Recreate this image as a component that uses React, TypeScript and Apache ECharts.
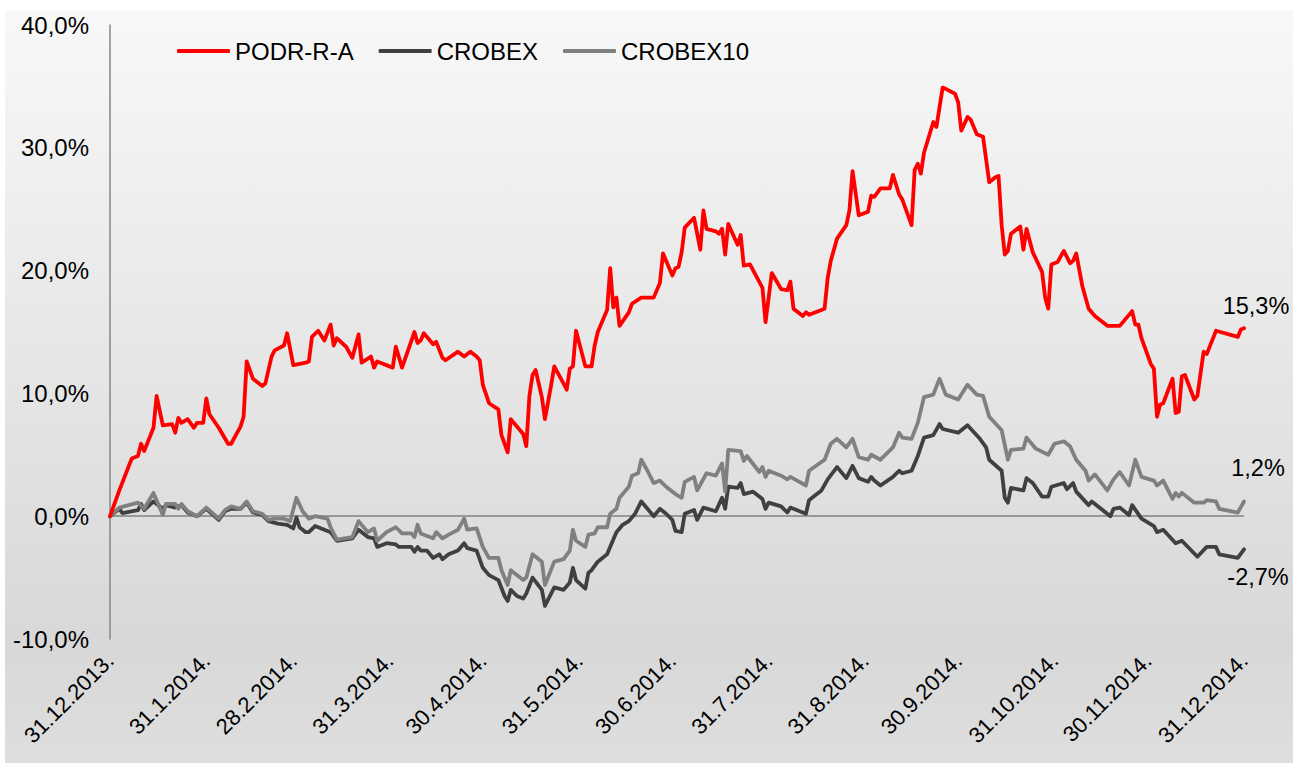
import React, { useEffect, useRef } from "react";
import * as echarts from "echarts";

// Day offsets from 31.12.2013 (0) to 31.12.2014 (365)
const totalDays = 365;
const monthEndDays = [0, 31, 59, 90, 120, 151, 181, 212, 243, 273, 304, 334, 365];
const monthEndLabels = [
  "31.12.2013.", "31.1.2014.", "28.2.2014.", "31.3.2014.", "30.4.2014.", "31.5.2014.",
  "30.6.2014.", "31.7.2014.", "31.8.2014.", "30.9.2014.", "31.10.2014.", "30.11.2014.", "31.12.2014.",
];
const yTicks = { min: -10, max: 40, interval: 10 };
const seriesNames = ["PODR-R-A", "CROBEX", "CROBEX10"];

// [day offset, cumulative return %]
const podr: [number, number][] = [
  [0, 0], [3, 2.1], [7, 4.7], [9, 4.9], [10, 5.9], [11, 5.3], [14, 7.2], [15, 9.8], [17, 7.4], [20, 7.5],
  [21, 6.8], [22, 8.0], [23, 7.6], [25, 7.9], [27, 7.2], [28, 7.6], [30, 7.6], [31, 9.6], [32, 8.3], [35, 7.2],
  [38, 5.9], [39, 5.9], [42, 7.3], [43, 8.1], [44, 12.6], [46, 11.2], [49, 10.6], [50, 10.8], [52, 13.0], [53, 13.5],
  [56, 13.9], [57, 14.9], [59, 12.3], [63, 12.5], [64, 12.6], [65, 14.6], [67, 15.1], [69, 14.3], [71, 15.6], [72, 13.9],
  [73, 14.5], [76, 13.8], [78, 12.9], [80, 14.8], [81, 12.5], [84, 13.0], [85, 12.1], [86, 12.6], [91, 12.1], [92, 13.8],
  [94, 12.1], [98, 15.0], [99, 14.1], [100, 14.3], [101, 14.9], [104, 14.0], [105, 14.2], [107, 12.9], [108, 12.7], [112, 13.4],
  [114, 13.0], [116, 13.4], [118, 13.0], [119, 12.7], [120, 10.7], [122, 9.2], [125, 8.7], [126, 6.6], [128, 5.2], [129, 7.9],
  [133, 6.7], [134, 5.7], [135, 9.8], [136, 11.5], [137, 11.9], [139, 9.7], [140, 7.9], [142, 10.7], [143, 12.2], [146, 10.8],
  [147, 10.3], [148, 12.0], [149, 12.2], [150, 15.1], [153, 12.2], [155, 12.2], [156, 13.9], [157, 15.0], [160, 16.8], [161, 20.2],
  [162, 17.0], [163, 17.8], [164, 15.5], [167, 16.6], [168, 17.3], [171, 17.8], [175, 17.8], [177, 19.0], [178, 21.4], [181, 19.6],
  [182, 20.2], [183, 20.3], [184, 21.5], [185, 23.5], [188, 24.3], [190, 21.7], [191, 24.9], [192, 23.4], [195, 23.2], [196, 23.0],
  [197, 23.4], [198, 21.3], [199, 23.8], [202, 22.1], [203, 22.9], [204, 20.4], [206, 20.5], [210, 18.6], [211, 15.8], [213, 19.8],
  [216, 18.5], [218, 18.4], [219, 19.1], [220, 16.9], [223, 16.3], [224, 16.6], [225, 16.4], [230, 16.9], [231, 19.4], [232, 20.8],
  [234, 22.6], [237, 23.7], [238, 24.9], [239, 28.1], [241, 24.5], [244, 24.8], [245, 26.1], [246, 26.0], [248, 26.7], [251, 26.7],
  [252, 27.8], [254, 26.2], [255, 25.8], [258, 23.7], [259, 28.2], [260, 28.7], [261, 27.9], [262, 29.6], [265, 32.1], [266, 31.7],
  [268, 34.9], [269, 34.8], [272, 34.4], [273, 33.7], [274, 31.4], [276, 32.5], [277, 32.3], [279, 31.1], [281, 30.9], [283, 27.2],
  [285, 27.6], [286, 27.7], [287, 23.7], [288, 21.3], [289, 21.6], [290, 23.0], [293, 23.6], [294, 21.7], [295, 23.4], [297, 21.5],
  [300, 19.9], [301, 17.8], [302, 16.9], [303, 20.5], [305, 20.7], [307, 21.6], [309, 20.6], [310, 20.8], [311, 21.4], [313, 18.7],
  [315, 16.9], [317, 16.3], [321, 15.5], [325, 15.5], [329, 16.7], [330, 15.6], [331, 15.6], [332, 14.5], [335, 12.4], [336, 12.0],
  [337, 8.1], [338, 9.1], [339, 9.2], [342, 11.2], [343, 8.4], [344, 8.5], [345, 11.4], [346, 11.5], [349, 9.5], [350, 9.8],
  [352, 13.4], [353, 13.2], [356, 15.1], [363, 14.6], [364, 15.2], [365, 15.3],
];

const crobex: [number, number][] = [
  [0, 0], [3, 0.6], [4, 0.25], [9, 0.5], [10, 1.0], [11, 0.5], [14, 1.2], [15, 1.0], [17, 0.6], [18, 0.9],
  [21, 0.7], [23, 0.9], [25, 0.3], [28, 0.0], [31, 0.6], [35, -0.3], [37, 0.4], [39, 0.6], [42, 0.6], [44, 1.1],
  [46, 0.3], [49, 0.1], [51, -0.4], [54, -0.6], [57, -0.7], [59, -1.0], [60, -0.1], [61, -0.9], [63, -1.3], [64, -1.3],
  [66, -0.8], [69, -1.1], [71, -1.3], [73, -2.0], [78, -1.8], [80, -1.1], [83, -1.7], [85, -1.8], [86, -2.5], [89, -2.2],
  [92, -2.3], [93, -2.5], [97, -2.5], [98, -2.9], [99, -2.5], [100, -2.8], [102, -2.8], [104, -3.4], [106, -3.1], [107, -3.5],
  [109, -3.1], [112, -2.8], [114, -2.2], [115, -2.6], [118, -2.8], [120, -4.2], [122, -4.8], [125, -5.2], [127, -6.5], [128, -6.9],
  [129, -6.0], [131, -6.5], [133, -6.7], [134, -6.3], [136, -5.0], [139, -6.0], [140, -7.3], [143, -5.8], [146, -6.0], [148, -5.4],
  [149, -4.2], [150, -5.2], [153, -5.9], [154, -4.6], [155, -4.4], [157, -3.7], [160, -3.1], [162, -1.9], [163, -1.3], [165, -0.7],
  [167, -0.4], [169, 0.2], [171, 1.2], [173, 0.6], [175, 0.0], [177, 0.6], [179, 0.2], [181, -0.3], [182, -1.2], [184, -1.3],
  [185, 0.2], [188, 0.5], [189, -0.3], [191, 0.7], [195, 0.4], [197, 1.5], [198, 0.6], [199, 2.4], [202, 2.3], [203, 2.7],
  [204, 1.8], [207, 2.0], [210, 1.4], [211, 0.6], [212, 1.1], [216, 0.8], [218, 0.3], [219, 0.7], [224, 0.2], [225, 1.3],
  [227, 1.7], [229, 2.1], [231, 3.0], [234, 4.0], [237, 3.1], [239, 4.1], [241, 3.1], [244, 2.8], [245, 3.2], [246, 2.9],
  [248, 2.5], [252, 3.2], [254, 3.7], [255, 3.5], [258, 3.7], [260, 4.9], [262, 6.4], [265, 6.6], [267, 7.5], [268, 7.1],
  [273, 6.8], [276, 7.4], [280, 6.3], [282, 5.6], [283, 4.6], [287, 3.7], [288, 1.5], [289, 1.1], [290, 2.3], [294, 2.1],
  [295, 3.1], [297, 2.7], [300, 1.6], [302, 1.6], [303, 2.4], [307, 2.7], [308, 2.2], [310, 2.7], [311, 2.0], [315, 0.9],
  [316, 1.2], [322, 0.0], [323, 0.6], [325, 0.7], [328, 0.1], [329, 0.9], [332, -0.2], [336, -0.8], [337, -1.3], [339, -1.1],
  [343, -2.2], [345, -2.0], [350, -3.3], [353, -2.5], [356, -2.5], [357, -3.1], [363, -3.4], [365, -2.7],
];

const crobex10: [number, number][] = [
  [0, 0], [3, 0.7], [9, 1.1], [11, 0.6], [14, 1.9], [15, 1.3], [17, 0.1], [18, 1.0], [21, 1.0], [22, 0.6],
  [23, 1.0], [25, 0.4], [28, 0.0], [31, 0.7], [35, -0.2], [37, 0.5], [39, 0.8], [42, 0.6], [44, 1.2], [46, 0.4],
  [49, 0.2], [51, -0.3], [53, -0.2], [56, -0.2], [58, -0.4], [60, 1.5], [62, 0.4], [64, -0.2], [66, 0.0], [70, -0.2],
  [71, -0.9], [73, -1.9], [78, -1.7], [80, -0.4], [83, -1.3], [85, -1.0], [86, -2.0], [89, -1.3], [92, -0.9], [94, -1.4],
  [97, -1.4], [98, -1.7], [99, -0.7], [100, -1.4], [104, -1.8], [105, -1.3], [107, -1.8], [109, -1.5], [112, -1.1], [114, -0.2],
  [115, -1.1], [118, -1.0], [120, -2.5], [122, -3.4], [125, -3.4], [126, -4.4], [128, -5.6], [129, -4.4], [133, -5.2], [134, -5.0],
  [136, -3.1], [139, -3.7], [140, -5.6], [143, -3.7], [146, -3.5], [148, -2.8], [149, -1.1], [150, -2.0], [153, -2.5], [154, -1.5],
  [156, -1.4], [157, -0.9], [160, -0.9], [161, 0.2], [163, 0.6], [164, 1.5], [167, 2.4], [168, 3.3], [170, 3.5], [171, 4.6],
  [173, 3.7], [175, 2.7], [177, 2.9], [179, 2.4], [182, 1.8], [184, 1.5], [185, 2.8], [188, 3.2], [189, 2.1], [192, 3.5],
  [195, 3.3], [197, 4.3], [198, 2.0], [199, 5.4], [203, 5.3], [204, 4.5], [205, 4.9], [209, 3.6], [210, 4.0], [211, 3.2],
  [212, 3.7], [216, 3.3], [218, 3.0], [219, 3.2], [224, 2.5], [225, 3.7], [230, 4.6], [232, 5.9], [234, 6.3], [237, 5.6],
  [239, 6.3], [241, 4.8], [244, 4.6], [245, 5.0], [248, 4.6], [252, 5.6], [254, 6.8], [255, 6.4], [258, 6.3], [260, 7.6],
  [262, 9.7], [265, 9.9], [267, 11.2], [269, 9.9], [273, 9.5], [276, 10.7], [279, 9.9], [281, 9.8], [283, 8.1], [287, 7.0],
  [289, 4.6], [290, 5.4], [294, 5.5], [295, 6.4], [298, 5.5], [302, 5.0], [304, 5.9], [307, 6.1], [309, 5.7], [311, 4.6],
  [314, 3.7], [315, 2.9], [317, 3.4], [321, 2.1], [323, 3.0], [325, 3.6], [328, 2.5], [330, 4.6], [332, 3.2], [336, 2.9],
  [337, 2.5], [339, 2.9], [342, 1.4], [343, 1.9], [344, 1.6], [345, 1.9], [349, 1.1], [352, 1.1], [353, 1.3], [356, 1.2],
  [357, 0.6], [363, 0.3], [365, 1.2],
];

const FONT = "'Liberation Sans', Arial, sans-serif";
const fmtPct = (v: number) => v.toFixed(1).replace(".", ",") + "%";

export default function App() {
  const ref = useRef<HTMLDivElement>(null);

  useEffect(() => {
    if (!ref.current) return;
    const chart = echarts.init(ref.current, undefined, { renderer: "svg" });

    const categories = Array.from({ length: totalDays + 1 }, (_, i) => String(i));
    const labelByDay: Record<number, string> = {};
    monthEndDays.forEach((d, i) => (labelByDay[d] = monthEndLabels[i]));

    const colors = ["#ff0000", "#404040", "#808080"];
    const datasets = [podr, crobex, crobex10];
    const endLabelCfg = [
      { position: "top", offset: [12, -5] },
      { position: "bottom", offset: [14, 11] },
      { position: "top", offset: [14, -16] },
    ];

    const series: any[] = datasets.map((pts, si) => {
      const last = pts[pts.length - 1];
      return {
        name: seriesNames[si],
        type: "line",
        symbol: "none",
        showSymbol: false,
        smooth: false,
        z: si === 0 ? 4 : si === 2 ? 3 : 2,
        lineStyle: { color: colors[si], width: 3.8, cap: "round", join: "round" },
        itemStyle: { color: colors[si] },
        data: pts.map((p) => [String(p[0]), p[1]]),
        markPoint: {
          silent: true,
          symbol: "circle",
          symbolSize: 0,
          itemStyle: { color: "transparent" },
          data: [{ coord: [String(last[0]), last[1]], value: last[1] }],
          label: {
            show: true,
            position: endLabelCfg[si].position,
            offset: endLabelCfg[si].offset,
            formatter: () => fmtPct(last[1]),
            fontSize: 23.5,
            fontFamily: FONT,
            color: "#000",
          },
        },
      };
    });

    series[0].markLine = {
      silent: true,
      symbol: "none",
      label: { show: false },
      lineStyle: { color: "#808080", width: 1.5, type: "solid" },
      data: [{ yAxis: 0 }],
      z: 1,
    };

    chart.setOption({
      animation: false,
      backgroundColor: "transparent",
      grid: { left: 105, right: 49, top: 15, bottom: 124, containLabel: false },
      legend: {
        data: seriesNames,
        left: 167,
        top: 24,
        icon: "roundRect",
        itemWidth: 53,
        itemHeight: 4,
        itemGap: 25,
        textStyle: { fontSize: 24, fontFamily: FONT, color: "#000", padding: [0, 0, 0, 0] },
      },
      xAxis: {
        type: "category",
        data: categories,
        boundaryGap: false,
        axisLine: { show: false },
        axisTick: { show: false },
        splitLine: { show: false },
        axisLabel: {
          interval: (idx: number) => labelByDay[idx] !== undefined,
          formatter: (_v: string, idx: number) => labelByDay[idx] ?? "",
          rotate: 45,
          margin: 18,
          fontSize: 22,
          fontFamily: FONT,
          color: "#000",
        },
      },
      yAxis: {
        type: "value",
        min: yTicks.min,
        max: yTicks.max,
        interval: yTicks.interval,
        axisLine: { show: true, lineStyle: { color: "#868686", width: 1.5 } },
        axisTick: { show: false },
        splitLine: { show: false },
        axisLabel: {
          formatter: (v: number) => fmtPct(v),
          margin: 21,
          fontSize: 24,
          fontFamily: FONT,
          color: "#000",
        },
      },
      series,
    });

    return () => chart.dispose();
  }, []);

  return (
    <div
      style={{
        position: "absolute",
        left: 5,
        top: 10,
        width: 1288,
        height: 753,
        background: "linear-gradient(#f8f8f8 0%, #d8d8d8 84%, #dedede 100%)",
      }}
    >
      <div ref={ref} style={{ width: "100%", height: "100%" }} />
    </div>
  );
}
